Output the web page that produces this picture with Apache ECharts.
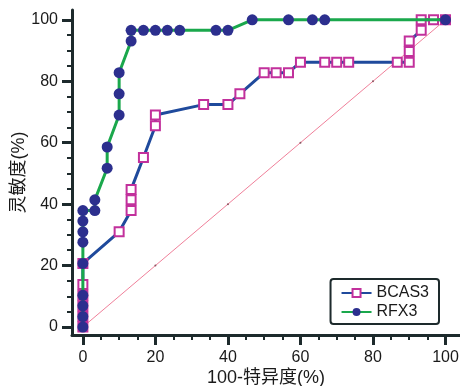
<!DOCTYPE html>
<html>
<head>
<meta charset="utf-8">
<script src="https://cdn.jsdelivr.net/npm/echarts@6/dist/echarts.min.js"></script>
<style>
  html, body { margin: 0; padding: 0; background: #fff; }
  #roc-chart { width: 460px; height: 386px; }
</style>
</head>
<body>
<div id="roc-chart"></div>
<script>
// ROC points: [100-specificity, sensitivity]
const bcas3Points = [
  [0, 0], [0, 3.4], [0, 6.9], [0, 10.3], [0, 13.8], [0, 20.7],
  [10, 31.0], [13.3, 37.9], [13.3, 41.4], [13.3, 44.8], [16.7, 55.2],
  [20, 65.5], [20, 69.0], [33.3, 72.4], [40, 72.4], [43.3, 75.9],
  [50, 82.8], [53.3, 82.8], [56.7, 82.8], [60, 86.2], [66.7, 86.2],
  [70, 86.2], [73.3, 86.2], [86.7, 86.2], [90, 86.2], [90, 89.7],
  [90, 93.1], [93.3, 96.6], [93.3, 100], [96.7, 100], [100, 100]
];
const rfx3Points = [
  [0, 0], [0, 3.4], [0, 6.9], [0, 10.3], [0, 20.7], [0, 27.6],
  [0, 31.0], [0, 34.5], [0, 37.9], [3.3, 37.9], [3.3, 41.4],
  [6.7, 51.7], [6.7, 58.6], [10, 69.0], [10, 75.9], [10, 82.8],
  [13.3, 93.1], [13.3, 96.6], [16.7, 96.6], [20, 96.6], [23.3, 96.6],
  [26.7, 96.6], [36.7, 96.6], [40, 96.6], [46.7, 100], [56.7, 100],
  [63.3, 100], [66.7, 100], [100, 100]
];
const refPoints = [[0, 0], [20, 20], [40, 40], [60, 60], [80, 80], [100, 100]];
const majorTicks = [0, 20, 40, 60, 80, 100];
const minorTicks = [0, 5, 10, 15, 20, 25, 30, 35, 40, 45, 50, 55, 60, 65, 70, 75, 80, 85, 90, 95, 100];

const axisColor = '#1d2a2c';
const fontFamily = '"Liberation Sans", "Noto Sans CJK SC", sans-serif';

const chart = echarts.init(document.getElementById('roc-chart'));

// minor axis: carries the line + short ticks; major axis: long ticks + labels
const minorAxis = (min, max, extra) => Object.assign({
  type: 'value',
  min: min,
  max: max,
  axisLine: { show: true, onZero: false, lineStyle: { color: axisColor, width: 3 } },
  axisTick: { show: true, length: 5, customValues: minorTicks, lineStyle: { color: axisColor, width: 2 } },
  axisLabel: { show: false },
  splitLine: { show: false }
}, extra);

const majorAxis = (min, max, extra) => Object.assign({
  type: 'value',
  min: min,
  max: max,
  axisLine: { show: false, onZero: false },
  axisTick: { show: true, length: 10, customValues: majorTicks, lineStyle: { color: axisColor, width: 3 } },
  splitLine: { show: false }
}, extra);

const option = {
  backgroundColor: '#ffffff',
  animation: false,
  grid: { left: 72, right: 0, top: 10, bottom: 51, outerBoundsMode: 'none' },
  legend: {
    orient: 'vertical',
    right: 21,
    top: 279,
    data: ['BCAS3', 'RFX3'],
    borderColor: axisColor,
    borderWidth: 2,
    borderRadius: 3,
    padding: [6, 10, 4, 10],
    itemWidth: 30,
    itemHeight: 10,
    itemGap: 3,
    textStyle: { color: '#1a1a1a', fontSize: 16, fontFamily: fontFamily }
  },
  xAxis: [
    minorAxis(-3, 104, { position: 'bottom' }),
    majorAxis(-3, 104, {
      position: 'bottom',
      offset: 0,
      name: '100-特异度(%)',
      nameLocation: 'middle',
      nameGap: 34,
      nameMoveOverlap: false,
      nameTextStyle: { color: '#1a1a1a', fontSize: 18, fontFamily: fontFamily },
      axisLabel: {
        show: true, customValues: majorTicks, color: '#1a1a1a',
        fontSize: 16, fontFamily: fontFamily, margin: 15
      }
    })
  ],
  yAxis: [
    minorAxis(-2.6, 103.2, { position: 'left' }),
    majorAxis(-2.6, 103.2, {
      position: 'left',
      offset: 0,
      name: '灵敏度(%)',
      nameLocation: 'middle',
      nameGap: 44,
      nameMoveOverlap: false,
      nameTextStyle: { color: '#1a1a1a', fontSize: 18, fontFamily: fontFamily },
      axisLabel: {
        show: true, customValues: majorTicks, color: '#1a1a1a',
        fontSize: 16, fontFamily: fontFamily, margin: 14
      }
    })
  ],
  series: [
    {
      name: 'ref',
      type: 'line',
      data: refPoints,
      symbol: 'circle',
      symbolSize: 2,
      itemStyle: { color: '#8a5560' },
      lineStyle: { color: '#f0809a', width: 1 },
      silent: true,
      z: 1
    },
    {
      name: 'RFX3',
      type: 'line',
      data: rfx3Points,
      symbol: 'circle',
      symbolSize: 11,
      showAllSymbol: true,
      itemStyle: { color: '#2c2f8e', borderWidth: 0 },
      lineStyle: { color: '#1aa84c', width: 3 },
      z: 3
    },
    {
      name: 'BCAS3',
      type: 'line',
      data: bcas3Points,
      symbol: 'rect',
      symbolSize: 9,
      showAllSymbol: true,
      itemStyle: { color: '#ffffff', borderColor: '#c2309c', borderWidth: 2 },
      lineStyle: { color: '#1f4a9c', width: 3 },
      z: 2
    }
  ]
};

chart.setOption(option);
</script>
</body>
</html>
